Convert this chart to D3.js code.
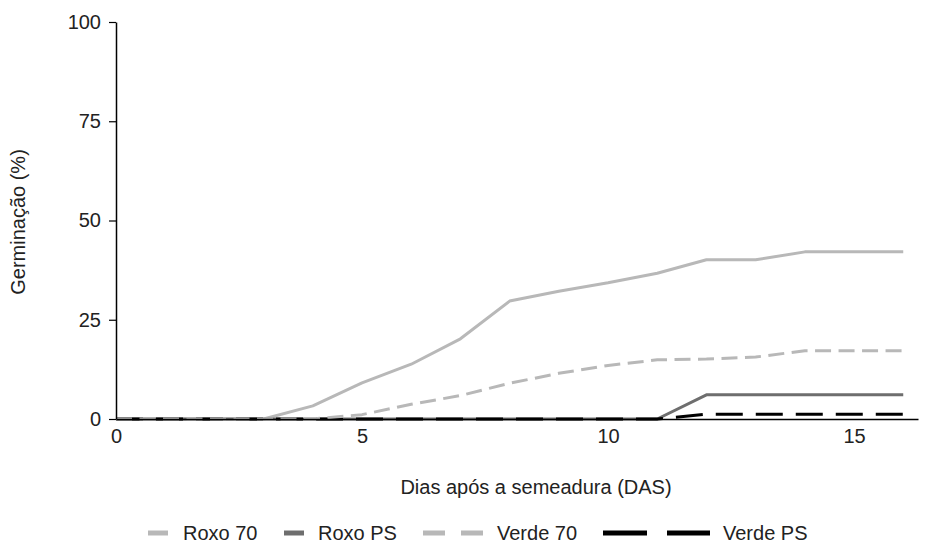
<!DOCTYPE html>
<html>
<head>
<meta charset="utf-8">
<script src="https://cdn.jsdelivr.net/npm/d3@7"></script>
<style>
  html, body { margin: 0; padding: 0; background: #fff; }
  svg { display: block; font-family: "Liberation Sans", Arial, sans-serif; }
</style>
</head>
<body>
<svg id="chart" width="945" height="543"></svg>
<script>
const days = [0, 1, 2, 3, 4, 5, 6, 7, 8, 9, 10, 11, 12, 13, 14, 15, 16];
const roxo70 = [0, 0, 0, 0, 3.3, 9.1, 13.8, 20.2, 29.7, 32.2, 34.3, 36.7, 40.1, 40.1, 42.1, 42.1, 42.1];
const roxoPS = [0, 0, 0, 0, 0, 0, 0, 0, 0, 0, 0, 0, 6.1, 6.1, 6.1, 6.1, 6.1];
const verde70 = [0, 0, 0, 0, 0, 1.1, 3.7, 5.9, 9.0, 11.5, 13.5, 14.9, 15.1, 15.6, 17.2, 17.2, 17.2];
const verdePS = [0, 0, 0, 0, 0, 0, 0, 0, 0, 0, 0, 0, 1.2, 1.2, 1.2, 1.2, 1.2];
const seriesNames = ["Roxo 70", "Roxo PS", "Verde 70", "Verde PS"];
const xTicks = [0, 5, 10, 15];
const yTicks = [0, 25, 50, 75, 100];

const styles = {
  "Roxo 70": { color: "#b8b8b8", dash: null, width: 3 },
  "Roxo PS": { color: "#6e6e6e", dash: null, width: 3 },
  "Verde 70": { color: "#b8b8b8", dash: "16,7.5", width: 3 },
  "Verde PS": { color: "#000000", dash: "27,13", width: 3 }
};
const valuesByName = { "Roxo 70": roxo70, "Roxo PS": roxoPS, "Verde 70": verde70, "Verde PS": verdePS };

const FONT = 20;
const svg = d3.select("#chart");
const mLeft = 116, mRight = 918, mTop = 22, mBottom = 419;

const x = d3.scaleLinear().domain([0, 16.3]).range([mLeft, mRight]);
const y = d3.scaleLinear().domain([0, 100]).range([mBottom, mTop]);

const line = d3.line().x(d => x(d[0])).y(d => y(d[1]));

// series
const drawOrder = ["Roxo 70", "Roxo PS", "Verde PS", "Verde 70"];
drawOrder.forEach(name => {
  const st = styles[name];
  const pts = days.map((d, i) => [d, valuesByName[name][i]]);
  svg.append("path")
    .datum(pts)
    .attr("d", line)
    .attr("fill", "none")
    .attr("stroke", st.color)
    .attr("stroke-width", st.width)
    .attr("stroke-dasharray", st.dash)
    .attr("stroke-linejoin", "round");
});

// axes
const xAxis = d3.axisBottom(x).tickValues(xTicks).tickSize(0).tickPadding(10).tickFormat(d3.format("d"));
const gx = svg.append("g").attr("transform", `translate(0,${mBottom})`).call(xAxis);
gx.attr("font-size", FONT).attr("font-family", "Liberation Sans, Arial, sans-serif");
gx.select(".domain").attr("stroke", "#000").attr("stroke-width", 1.5);
gx.selectAll("text").attr("fill", "#222");

const yAxis = d3.axisLeft(y).tickValues(yTicks).tickSize(7).tickSizeOuter(0).tickPadding(8);
const gy = svg.append("g").attr("transform", `translate(${mLeft},0)`).call(yAxis);
gy.attr("font-size", FONT).attr("font-family", "Liberation Sans, Arial, sans-serif");
gy.select(".domain").attr("stroke", "#000").attr("stroke-width", 1.5);
gy.selectAll(".tick line").attr("stroke", "#000").attr("stroke-width", 1.2);
gy.selectAll("text").attr("fill", "#222");

// axis titles
svg.append("text")
  .attr("x", 536).attr("y", 494)
  .attr("text-anchor", "middle")
  .attr("font-size", FONT).attr("fill", "#222")
  .text("Dias após a semeadura (DAS)");

svg.append("text")
  .attr("transform", "translate(25,222) rotate(-90)")
  .attr("text-anchor", "middle")
  .attr("font-size", FONT).attr("fill", "#222")
  .text("Germinação (%)");

// legend
const legendItems = [
  { name: "Roxo 70", x1: 148, x2: 168, tx: 183 },
  { name: "Roxo PS", x1: 284, x2: 304, tx: 318 },
  { name: "Verde 70", x1: 423, x2: 483, tx: 497, dash: "22,16" },
  { name: "Verde PS", x1: 603, x2: 710, tx: 723, dash: "44,20" }
];
const ly = 533;
const lg = svg.append("g");
legendItems.forEach(it => {
  const st = styles[it.name];
  lg.append("line")
    .attr("x1", it.x1).attr("x2", it.x2)
    .attr("y1", ly).attr("y2", ly)
    .attr("stroke", st.color)
    .attr("stroke-width", 5)
    .attr("stroke-dasharray", it.dash || null);
  lg.append("text")
    .attr("x", it.tx).attr("y", ly + 7)
    .attr("font-size", FONT).attr("fill", "#222")
    .text(it.name);
});
</script>
</body>
</html>
